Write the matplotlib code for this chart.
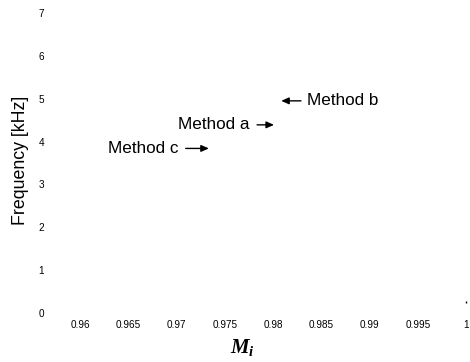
import matplotlib
matplotlib.use("Agg")
import matplotlib.pyplot as plt

# ---- data ----
x_ticks = [0.96, 0.965, 0.97, 0.975, 0.98, 0.985, 0.99, 0.995, 1.0]
x_tick_labels = ["0.96", "0.965", "0.97", "0.975", "0.98", "0.985", "0.99", "0.995", "1"]
y_ticks = [0, 1, 2, 3, 4, 5, 6, 7]
y_tick_labels = ["0", "1", "2", "3", "4", "5", "6", "7"]

method_labels = ["Method a", "Method b", "Method c"]
arrow_head_x = [0.98010, 0.98085, 0.97335]
arrow_head_y = [4.39, 4.95, 3.84]
arrow_tail_x = [0.97835, 0.98290, 0.97095]
label_side = ["left", "right", "left"]

stray_x = [1.0]
stray_y = [0.25]

plt.rcParams["font.family"] = ["Liberation Sans", "DejaVu Sans"]
plt.rcParams["mathtext.fontset"] = "custom"
plt.rcParams["mathtext.it"] = "Liberation Serif:italic:bold"
plt.rcParams["mathtext.rm"] = "Liberation Serif:bold"

W, H = 470, 362
fig = plt.figure(figsize=(W / 100, H / 100), dpi=100)
left_px, right_px, bottom_px, top_px = 53, 466, 313, 13
ax = fig.add_axes([left_px / W, 1 - bottom_px / H, (right_px - left_px) / W, (bottom_px - top_px) / H])
ax.set_xlim(0.9572, 1.0)
ax.set_ylim(0, 7)
for s in ax.spines.values():
    s.set_visible(False)
ax.set_xticks(x_ticks)
ax.set_xticklabels(x_tick_labels)
ax.set_yticks(y_ticks)
ax.set_yticklabels(y_tick_labels)
ax.tick_params(axis="both", length=0, labelsize=7.2, colors="black")
ax.tick_params(axis="x", pad=5)
ax.tick_params(axis="y", pad=6.5)

ax.plot(stray_x, stray_y, marker="|", markersize=2, color="black", linestyle="none", clip_on=False)

for lab, hx, hy, tx, side in zip(method_labels, arrow_head_x, arrow_head_y, arrow_tail_x, label_side):
    ax.annotate("", xy=(hx, hy), xytext=(tx, hy),
                arrowprops=dict(arrowstyle="-|>,head_length=0.45,head_width=0.2",
                                color="black", lw=1.0, shrinkA=0, shrinkB=0))
    if side == "left":
        ax.annotate(lab, xy=(tx, hy), xytext=(-5.5, 0), textcoords="offset points",
                    ha="right", va="center", fontsize=12.3)
    else:
        ax.annotate(lab, xy=(tx, hy), xytext=(4, 0), textcoords="offset points",
                    ha="left", va="center", fontsize=12.3)

fig.text(21 / W, 1 - 160 / H, "Frequency [kHz]", rotation=90, ha="center", va="center", fontsize=12.8)
fig.text(242 / W, 1 - 348 / H, r"$M_i$", ha="center", va="center", fontsize=15)

fig.savefig("out.png", dpi=100)
